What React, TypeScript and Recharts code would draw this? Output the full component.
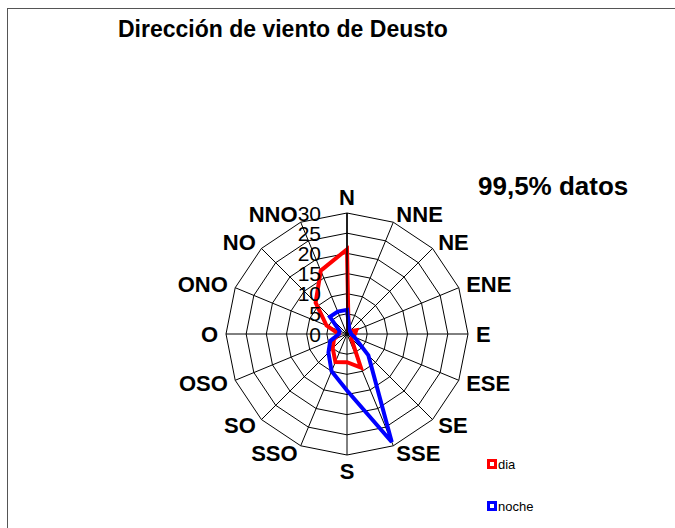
import { RadarChart, Radar, PolarGrid, PolarAngleAxis, PolarRadiusAxis, Legend } from 'recharts';

const direcciones = ['N', 'NNE', 'NE', 'ENE', 'E', 'ESE', 'SE', 'SSE', 'S', 'SSO', 'SO', 'OSO', 'O', 'ONO', 'NO', 'NNO'];
const dia = [21, 1, 1, 2.5, 2, 1.5, 1.5, 9, 7, 7.5, 5, 3.5, 2, 5.5, 11, 17];
const noche = [6, 1.5, 1, 1, 1, 2, 7.5, 29, 14, 10, 6.5, 4.5, 2, 2, 6, 6];
const radioTicks = [0, 5, 10, 15, 20, 25, 30];

const datos = direcciones.map((d, i) => ({ dir: d, dia: dia[i], noche: noche[i] }));

const CX = 347;
const CY = 334;
const R = 121;
const fuente = '"Liberation Sans", Arial, sans-serif';

const TickDireccion = (props: any) => {
    const ang = props.payload.coordinate;
    const rad = (ang * Math.PI) / 180;
    const cos = Math.cos(rad);
    const sin = Math.sin(rad);
    const x = CX + (R + 8) * cos;
    const y = CY - (R + 8) * sin;
    let anchor = 'middle';
    if (cos > 0.05) anchor = 'start';
    if (cos < -0.05) anchor = 'end';
    let base = 'central';
    if (sin > 0.95) base = 'auto';
    if (sin < -0.95) base = 'hanging';
    return (
        <text x={x} y={y} textAnchor={anchor} dominantBaseline={base}
            fontFamily={fuente} fontWeight="bold" fontSize={22} fill="#000">
            {props.payload.value}
        </text>
    );
};

const TickRadio = (props: any) => (
    <text x={props.x - 26} y={props.y} textAnchor="end" dominantBaseline="central"
        fontFamily={fuente} fontSize={21} fill="#000">
        {props.payload.value}
    </text>
);

const Leyenda = () => (
    <div style={{ fontFamily: fuente, fontSize: 13 }}>
        {[{ n: 'dia', c: '#ff0000' }, { n: 'noche', c: '#0000ff' }].map((s, i) => (
            <div key={s.n} style={{ display: 'flex', alignItems: 'center', height: 16, marginBottom: i === 0 ? 26 : 0 }}>
                <span style={{ width: 4, height: 4, border: `3px solid ${s.c}`, background: '#fff', display: 'inline-block' }} />
                <span style={{ marginLeft: 1 }}>{s.n}</span>
            </div>
        ))}
    </div>
);

export default function App() {
    return (
        <div style={{ position: 'absolute', left: 0, top: 0, width: 675, height: 528, overflow: 'hidden', background: '#fff' }}>
            <div style={{ position: 'absolute', left: 7, top: 8, width: 700, height: 600, borderLeft: '1px solid #555', borderTop: '1px solid #555' }} />
            <RadarChart width={675} height={528} data={datos} cx={CX} cy={CY} outerRadius={R}
                style={{ position: 'absolute', left: 0, top: 0 }}>
                <PolarGrid stroke="#000" strokeWidth={1} />
                <PolarAngleAxis dataKey="dir" tick={TickDireccion} tickLine={false} axisLine={false} />
                <PolarRadiusAxis angle={90} domain={[0, 30]} ticks={radioTicks} tickCount={7}
                    tick={TickRadio} axisLine={{ stroke: '#000', strokeWidth: 1.5 }} tickLine={false} />
                <Radar name="dia" dataKey="dia" stroke="#ff0000" strokeWidth={4} fill="none" fillOpacity={0}
                    dot={false} isAnimationActive={false} />
                <Radar name="noche" dataKey="noche" stroke="#0000ff" strokeWidth={4} fill="none" fillOpacity={0}
                    dot={false} isAnimationActive={false} />
                <Legend content={Leyenda} wrapperStyle={{ left: 487, top: 456, width: 100, bottom: 'auto' }} />
            </RadarChart>
            <svg width={675} height={528} style={{ position: 'absolute', left: 0, top: 0, pointerEvents: 'none' }}>
                <text x={118} y={37} fontFamily={fuente} fontWeight="bold" fontSize={23} fill="#000">
                    Dirección de viento de Deusto
                </text>
                <text x={478} y={195} fontFamily={fuente} fontWeight="bold" fontSize={26} fill="#000">
                    99,5% datos
                </text>
            </svg>
        </div>
    );
}
